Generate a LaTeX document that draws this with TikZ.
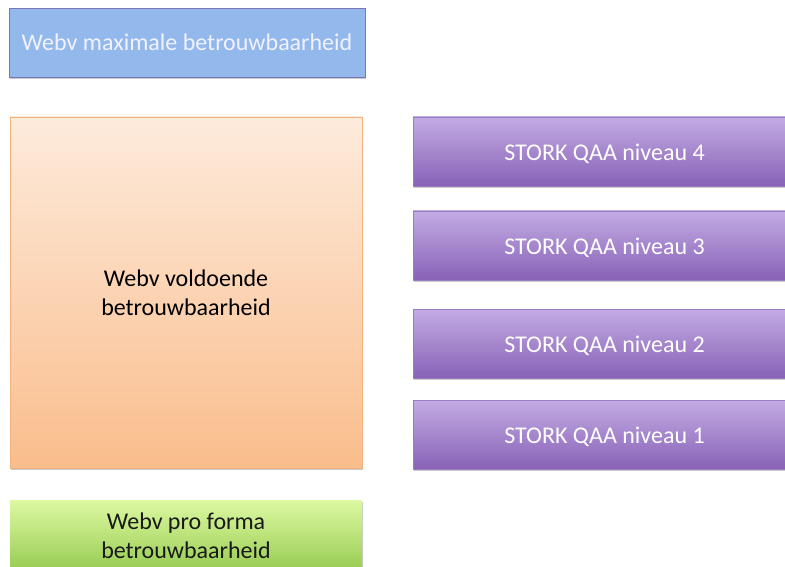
\documentclass[tikz,border=0pt]{standalone}
\usepackage{fontspec}
\setmainfont{Carlito}
\usetikzlibrary{shadows}
\definecolor{bluefill}{HTML}{92B8EC}
\definecolor{blueline}{HTML}{7E74B8}
\definecolor{orangetop}{HTML}{FDEBDC}
\definecolor{orangebot}{HTML}{FABD8C}
\definecolor{orangeline}{HTML}{F2B27E}
\definecolor{purpletop}{HTML}{C3ABE4}
\definecolor{purplebot}{HTML}{8862B6}
\definecolor{purpleline}{HTML}{9A7CC4}
\definecolor{greentop}{HTML}{DDF9A2}
\definecolor{greenbot}{HTML}{8FC647}
\tikzset{
  box/.style={rectangle, inner sep=0pt, align=center, font=\fontsize{24}{29}\selectfont,
    drop shadow={shadow xshift=0.8pt, shadow yshift=-2pt, opacity=0.35, fill=black!60}},
  bluebox/.style={box, fill=bluefill, draw=blueline, line width=0.8pt, text=white!95!blue},
  orangebox/.style={box, top color=orangetop, bottom color=orangebot, draw=orangeline, line width=0.8pt, text=black},
  purplebox/.style={box, top color=purpletop, bottom color=purplebot, draw=purpleline, line width=0.6pt, text=white},
  greenbox/.style={box, top color=greentop, bottom color=greenbot, draw=none, text=black!90},
  lbl/.style={font=\fontsize{24}{29}\selectfont, align=center},
}
\begin{document}
\begin{tikzpicture}[x=1pt,y=-1pt]
\useasboundingbox (0,0) rectangle (785,567);
\clip (0,0) rectangle (785,567);
\node[bluebox, minimum width=356pt, minimum height=69pt] (max) at (187,42.5) {Webv maximale betrouwbaarheid};
\node[orangebox, minimum width=352pt, minimum height=351pt] (vold) at (186,292.5) {Webv voldoende\\betrouwbaarheid};
\node[greenbox, minimum width=352pt, minimum height=80pt] (pro) at (186,540) {};
\node[lbl, text=black!90] (protext) at (186,536) {Webv pro forma\\betrouwbaarheid};
\node[purplebox, minimum width=382pt, minimum height=69pt] (s4) at (604,151.5) {};
\node[purplebox, minimum width=382pt, minimum height=69pt] (s3) at (604,245.5) {};
\node[purplebox, minimum width=382pt, minimum height=69pt] (s2) at (604,343.5) {};
\node[purplebox, minimum width=382pt, minimum height=69pt] (s1) at (604,434.5) {};
\node[lbl, text=white] (t4) at (604.5,154) {STORK QAA niveau 4};
\node[lbl, text=white] (t3) at (604.5,248) {STORK QAA niveau 3};
\node[lbl, text=white] (t2) at (604.5,346) {STORK QAA niveau 2};
\node[lbl, text=white] (t1) at (604.5,437) {STORK QAA niveau 1};
\end{tikzpicture}
\end{document}
